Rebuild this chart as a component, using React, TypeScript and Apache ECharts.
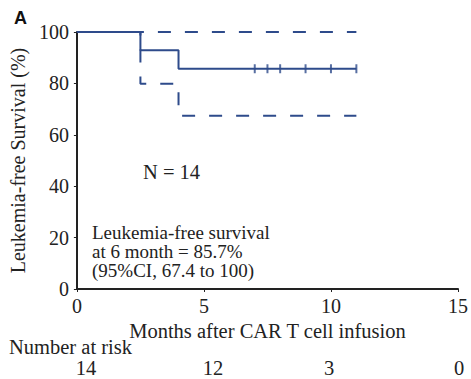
import React, { useEffect, useRef } from "react";
import * as echarts from "echarts";

// Kaplan–Meier estimate (time in months, survival in %)
const kmTimes = [0, 2.5, 4, 11];
const kmSurvival = [100, 92.9, 85.7, 85.7];
// 95% confidence band
const ciUpperTimes = [0, 11];
const ciUpper = [100, 100];
const ciLowerTimes = [0, 2.5, 4, 11];
const ciLower = [100, 79.9, 67.4, 67.4];
// Censored observations
const censorTimes = [7, 7.5, 8, 9, 10, 11];
const censorLevel = 85.7;
// Number-at-risk table
const riskTimes = [0, 5, 10, 15];
const riskCounts = ["14", "12", "3", "0"];
const xTicks = [0, 5, 10, 15];
const yTicks = [0, 20, 40, 60, 80, 100];

const BLUE = "#2e4b8b";
const INK = "#222";
const SERIF = "'Liberation Serif', 'Times New Roman', serif";
const FS = 20.5;

const zip = (xs: number[], ys: number[]) => xs.map((x, i) => [x, ys[i]]);

export default function App() {
  const ref = useRef<HTMLDivElement>(null);

  useEffect(() => {
    if (!ref.current) return;
    const chart = echarts.init(ref.current, undefined, { renderer: "svg" });
    const gridLeft = 76;
    const gridRight = 8;
    const plotW = 471 - gridLeft - gridRight;
    const xToPx = (t: number) => gridLeft + (t / 15) * plotW;
    const riskOffsets = [10, 8, -5, -4];

    chart.setOption({
      animation: false,
      grid: { left: gridLeft, right: gridRight, top: 32, bottom: 90 },
      xAxis: {
        type: "value",
        min: xTicks[0],
        max: xTicks[xTicks.length - 1],
        interval: 5,
        splitLine: { show: false },
        axisLine: { lineStyle: { color: INK, width: 2 } },
        axisTick: { show: true, length: 3, lineStyle: { color: INK } },
        axisLabel: { color: INK, fontFamily: SERIF, fontSize: 20, margin: 7 },
        name: "Months after CAR T cell infusion",
        nameLocation: "middle",
        nameGap: 31,
        nameTextStyle: { color: INK, fontFamily: SERIF, fontSize: FS },
      },
      yAxis: {
        type: "value",
        min: yTicks[0],
        max: yTicks[yTicks.length - 1],
        interval: 20,
        splitLine: { show: false },
        axisLine: { show: true, lineStyle: { color: INK, width: 2 } },
        axisTick: { show: true, length: 3, lineStyle: { color: INK } },
        axisLabel: { color: INK, fontFamily: SERIF, fontSize: 20, margin: 8 },
        name: "Leukemia-free Survival (%)",
        nameLocation: "middle",
        nameGap: 48,
        nameTextStyle: { color: INK, fontFamily: SERIF, fontSize: 20 },
      },
      series: [
        {
          type: "line",
          data: zip(ciUpperTimes, ciUpper),
          showSymbol: false,
          lineStyle: { color: BLUE, width: 2, type: [13, 14] },
          z: 2,
        },
        {
          type: "line",
          step: "end",
          data: zip(ciLowerTimes, ciLower),
          showSymbol: false,
          lineStyle: { color: BLUE, width: 2, type: [13, 14] },
          z: 2,
        },
        {
          type: "line",
          step: "end",
          data: zip(kmTimes, kmSurvival),
          showSymbol: false,
          lineStyle: { color: BLUE, width: 2 },
          z: 3,
        },
        {
          type: "scatter",
          data: censorTimes.map((t) => [t, censorLevel]),
          symbol: "rect",
          symbolSize: [2, 9],
          itemStyle: { color: BLUE },
          z: 4,
        },
      ],
      graphic: [
        {
          type: "text",
          x: 14,
          y: 18,
          style: {
            text: "A",
            fontFamily: "'Liberation Sans', Arial, sans-serif",
            fontWeight: "bold",
            fontSize: 18,
            fill: "#111",
            verticalAlign: "middle",
          },
        },
        {
          type: "text",
          x: 143,
          y: 172,
          style: { text: "N = 14", fontFamily: SERIF, fontSize: FS, fill: INK, verticalAlign: "middle" },
        },
        {
          type: "text",
          x: 92,
          y: 222.5,
          style: {
            text: "Leukemia-free survival\nat 6 month = 85.7%\n(95%CI, 67.4 to 100)",
            fontFamily: SERIF,
            fontSize: 19,
            lineHeight: 19,
            fill: INK,
          },
        },
        {
          type: "text",
          x: 9,
          y: 347,
          style: { text: "Number at risk", fontFamily: SERIF, fontSize: FS, fill: INK, verticalAlign: "middle" },
        },
        ...riskTimes.map((t, i) => ({
          type: "text",
          x: xToPx(t) + riskOffsets[i],
          y: 368,
          style: {
            text: riskCounts[i],
            fontFamily: SERIF,
            fontSize: FS,
            fill: INK,
            align: "center",
            verticalAlign: "middle",
          },
        })),
      ],
    });
    return () => chart.dispose();
  }, []);

  return (
    <div
      ref={ref}
      style={{ position: "fixed", left: 0, top: 0, width: 471, height: 379, background: "#fff" }}
    />
  );
}
